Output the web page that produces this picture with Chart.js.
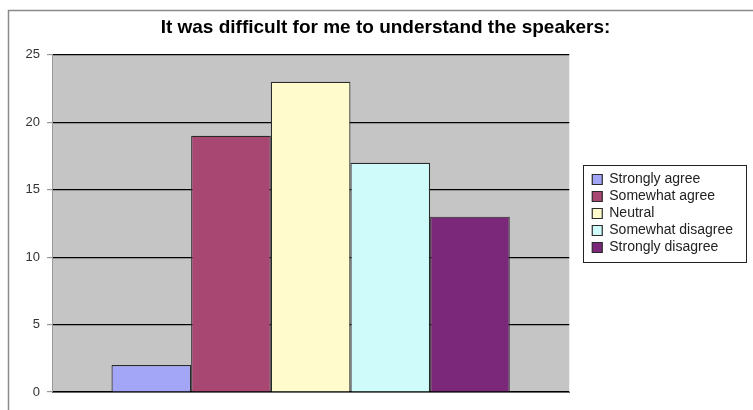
<!DOCTYPE html>
<html>
<head>
<meta charset="utf-8">
<script src="https://cdn.jsdelivr.net/npm/chart.js@4"></script>
<style>
  html, body { margin: 0; padding: 0; background: #fff; }
  #wrap { width: 753px; height: 410px; position: relative; }
</style>
</head>
<body>
<div id="wrap"><canvas id="chart" width="753" height="410"></canvas></div>
<script>
const title = 'It was difficult for me to understand the speakers:';
const answers = ['Strongly agree', 'Somewhat agree', 'Neutral', 'Somewhat disagree', 'Strongly disagree'];
const counts = [2, 19, 23, 17, 13];
const colors = ['#a3a6f6', '#a84872', '#fffbcc', '#cffbfa', '#7b287a'];
const yTicks = [0, 5, 10, 15, 20, 25];

const FONT = 'Liberation Sans, Arial, sans-serif';

// grey plot background, outer frame, legend/title nudge and legend box
const decor = {
  id: 'decor',
  afterLayout(chart) {
    const lg = chart.legend;
    lg.left += 20; lg.right += 20;
    lg.top += 2; lg.bottom += 2;
    const t = chart.titleBlock;
    t.left += 18; t.right += 18;
  },
  beforeDraw(chart) {
    const { ctx, chartArea: a } = chart;
    ctx.save();
    ctx.strokeStyle = '#8a8a8a';
    ctx.lineWidth = 1.5;
    ctx.beginPath();
    ctx.moveTo(8.5, 420);
    ctx.lineTo(8.5, 10.5);
    ctx.lineTo(760, 10.5);
    ctx.stroke();
    ctx.fillStyle = '#c5c5c5';
    ctx.fillRect(a.left, a.top, a.right - a.left, a.bottom - a.top);
    ctx.restore();
  },
  afterDraw(chart) {
    const boxes = chart.legend.legendHitBoxes;
    if (!boxes || !boxes.length) return;
    const x0 = Math.min(...boxes.map(b => b.left)) - 9;
    const y0 = Math.min(...boxes.map(b => b.top)) - 8;
    const x1 = Math.max(...boxes.map(b => b.left + b.width)) + 13;
    const y1 = Math.max(...boxes.map(b => b.top + b.height)) + 7;
    const ctx = chart.ctx;
    ctx.save();
    ctx.strokeStyle = '#222';
    ctx.lineWidth = 1;
    ctx.strokeRect(Math.round(x0) + 0.5, Math.round(y0) + 0.5, Math.round(x1 - x0), Math.round(y1 - y0));
    ctx.restore();
  }
};

new Chart(document.getElementById('chart'), {
  type: 'bar',
  data: {
    labels: [''],
    datasets: answers.map((a, i) => ({
      label: a,
      data: [counts[i]],
      backgroundColor: colors[i],
      borderColor: '#2a2a2a',
      borderWidth: 1.2,
      barPercentage: 1,
      categoryPercentage: 0.77
    }))
  },
  options: {
    responsive: false,
    animation: false,
    layout: { padding: { left: 12, top: 13, right: 30, bottom: 0 } },
    plugins: {
      title: {
        display: true,
        text: title,
        color: '#000',
        font: { family: FONT, size: 19, weight: 'bold' },
        padding: { top: 3, bottom: 16 }
      },
      legend: {
        position: 'right',
        labels: {
          color: '#222',
          font: { family: FONT, size: 14 },
          boxWidth: 10,
          boxHeight: 10,
          padding: 3
        }
      },
      tooltip: { enabled: false }
    },
    scales: {
      x: {
        ticks: { display: false },
        grid: { display: false },
        border: { color: '#666', width: 1 },
        afterFit(s) { s.height = 18; }
      },
      y: {
        min: 0,
        max: 25,
        afterBuildTicks(s) { s.ticks = yTicks.map(v => ({ value: v })); },
        ticks: { color: '#333', font: { family: FONT, size: 13 }, padding: 7 },
        grid: { color: '#000', lineWidth: 1.2, tickColor: '#999', tickLength: 5 },
        border: { color: '#999', width: 1 },
        afterFit(s) { s.width = 40; }
      }
    }
  },
  plugins: [decor]
});
</script>
</body>
</html>
